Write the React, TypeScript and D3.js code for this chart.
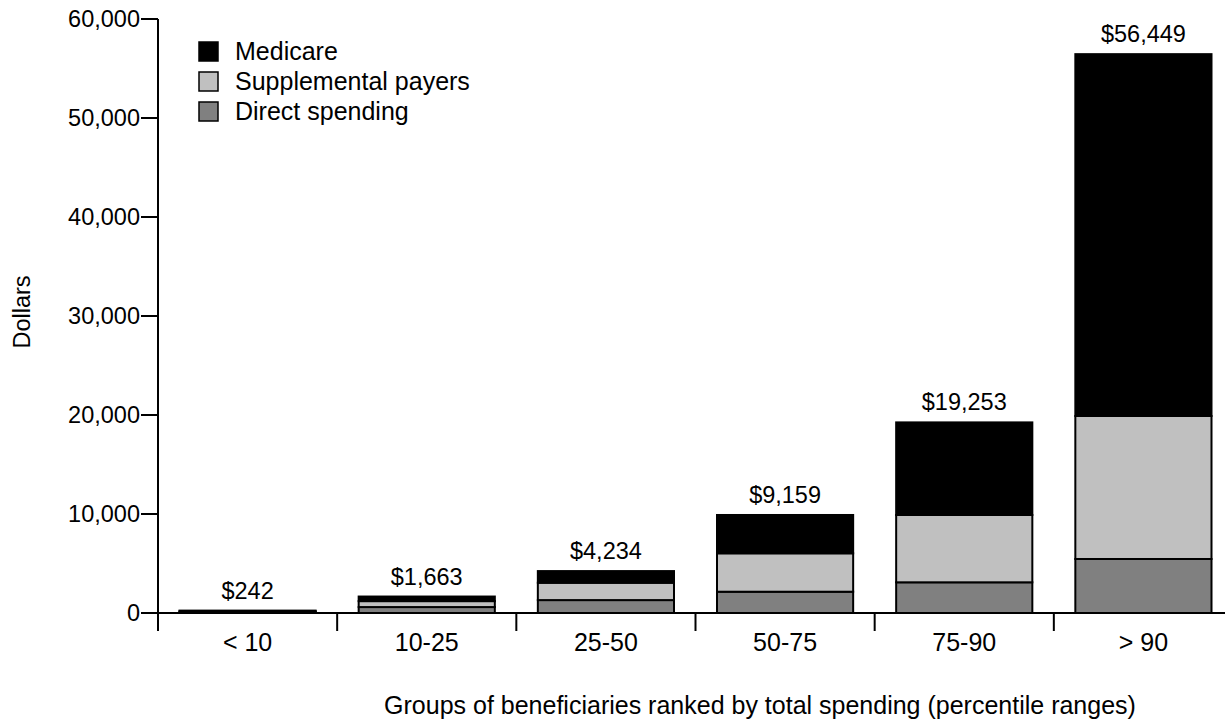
import React from "react";
import * as d3 from "d3";

const categories = ["< 10", "10-25", "25-50", "50-75", "75-90", "> 90"];
const directSpending = [80, 600, 1304, 2150, 3100, 5455];
const supplementalPayers = [90, 600, 1750, 3880, 6800, 14445];
const medicare = [72, 463, 1180, 3870, 9353, 36549];
const totalLabels = ["$242", "$1,663", "$4,234", "$9,159", "$19,253", "$56,449"];
const yTicks = [0, 10000, 20000, 30000, 40000, 50000, 60000];
const seriesNames = ["Medicare", "Supplemental payers", "Direct spending"];
const seriesColors = ["#000000", "#c0c0c0", "#808080"];

const W = 1225;
const H = 719;
const FONT = "'Liberation Sans', Arial, sans-serif";
const FS = 23.5;
const FS_BIG = 25;

export default function App() {
  const x = d3.scaleBand<string>().domain(categories).range([158, 1233]).padding(0);
  const y = d3.scaleLinear().domain([0, 60000]).range([613, 19]);
  const inset = x.bandwidth() * 0.12;
  const fmt = d3.format(",");

  const rows = categories.map((c, i) => ({
    cat: c,
    direct: directSpending[i],
    supp: supplementalPayers[i],
    medicare: medicare[i],
  }));
  const stack = d3.stack<any>().keys(["direct", "supp", "medicare"])(rows);
  const keyColor: Record<string, string> = {
    direct: seriesColors[2],
    supp: seriesColors[1],
    medicare: seriesColors[0],
  };

  return (
    <svg
      width={W}
      height={H}
      style={{ position: "absolute", left: 0, top: 0, background: "#fff" }}
      fontFamily={FONT}
    >
      {/* bars */}
      {stack.map((layer) => (
        <g key={layer.key}>
          {layer.map((d, i) => (
            <rect
              key={i}
              x={(x(categories[i]) as number) + inset}
              width={x.bandwidth() - 2 * inset}
              y={y(d[1])}
              height={y(d[0]) - y(d[1])}
              fill={keyColor[layer.key]}
              stroke="#000"
              strokeWidth={2}
            />
          ))}
        </g>
      ))}
      {/* value labels */}
      {categories.map((c, i) => {
        const top = stack[stack.length - 1][i][1];
        return (
          <text
            key={c}
            x={(x(c) as number) + x.bandwidth() / 2}
            y={y(top) - 12}
            textAnchor="middle"
            fontSize={FS}
            fill="#000"
          >
            {totalLabels[i]}
          </text>
        );
      })}
      {/* y axis */}
      <line x1={158} x2={158} y1={y(60000)} y2={631} stroke="#000" strokeWidth={2} />
      {yTicks.map((t) => (
        <g key={t}>
          <line x1={141} x2={158} y1={y(t)} y2={y(t)} stroke="#000" strokeWidth={2} />
          <text x={140} y={y(t) + 8} textAnchor="end" fontSize={FS} fill="#000">
            {fmt(t)}
          </text>
        </g>
      ))}
      {/* x axis */}
      <line x1={141} x2={W} y1={y(0)} y2={y(0)} stroke="#000" strokeWidth={2} />
      {categories.map((c) => (
        <g key={c}>
          <line
            x1={x(c) as number}
            x2={x(c) as number}
            y1={y(0)}
            y2={631}
            stroke="#000"
            strokeWidth={2}
          />
          <text
            x={(x(c) as number) + x.bandwidth() / 2}
            y={651}
            textAnchor="middle"
            fontSize={FS_BIG}
            fill="#000"
          >
            {c}
          </text>
        </g>
      ))}
      {/* axis titles */}
      <text x={760} y={714} textAnchor="middle" fontSize={FS_BIG} fill="#000">
        Groups of beneficiaries ranked by total spending (percentile ranges)
      </text>
      <text
        transform={`translate(30,312) rotate(-90)`}
        textAnchor="middle"
        fontSize={FS}
        fill="#000"
      >
        Dollars
      </text>
      {/* legend */}
      {seriesNames.map((n, i) => (
        <g key={n}>
          <rect
            x={199}
            y={42 + i * 30}
            width={19}
            height={19}
            fill={seriesColors[i]}
            stroke="#000"
            strokeWidth={1.5}
          />
          <text x={235} y={60 + i * 30} fontSize={FS_BIG} fill="#000">
            {n}
          </text>
        </g>
      ))}
    </svg>
  );
}
